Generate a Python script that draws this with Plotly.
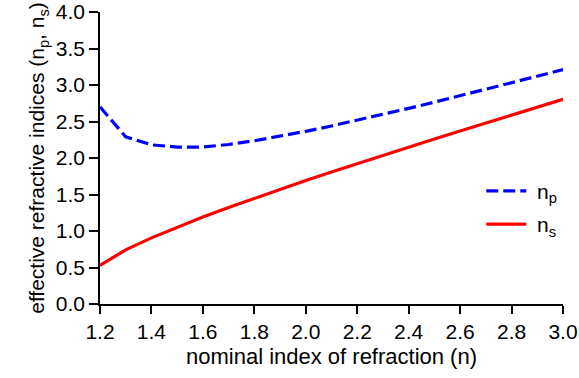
import plotly.graph_objects as go

n_nominal = [1.2, 1.3, 1.4, 1.5, 1.6, 1.7, 1.8, 1.9, 2.0, 2.1, 2.2, 2.3, 2.4, 2.5, 2.6, 2.7, 2.8, 2.9, 3.0]
n_p = [2.70, 2.29, 2.18, 2.15, 2.15, 2.185, 2.236, 2.297, 2.365, 2.439, 2.516, 2.597, 2.680, 2.765, 2.852, 2.940, 3.029, 3.119, 3.210]
n_s = [0.53, 0.742, 0.906, 1.054, 1.192, 1.323, 1.449, 1.572, 1.691, 1.808, 1.924, 2.037, 2.149, 2.261, 2.371, 2.480, 2.588, 2.696, 2.804]

x_ticks = [1.2, 1.4, 1.6, 1.8, 2.0, 2.2, 2.4, 2.6, 2.8, 3.0]
y_ticks = [0.0, 0.5, 1.0, 1.5, 2.0, 2.5, 3.0, 3.5, 4.0]

FONT = "Liberation Sans, Arial, sans-serif"
FS = 21

fig = go.Figure()
fig.add_trace(go.Scatter(x=n_nominal, y=n_p, mode="lines", name="\u00a0n<sub>p</sub>",
                         legendgroup="p",
                         line=dict(color="#0000ff", width=3.2, dash="12px,5px")))
fig.add_trace(go.Scatter(x=n_nominal, y=n_s, mode="lines", name="\u00a0n<sub>s</sub>",
                         legendgroup="s",
                         line=dict(color="#ff0000", width=3.2)))

axis_common = dict(showline=True, linecolor="black", linewidth=1.5, ticks="outside",
                   tickwidth=1.5, tickcolor="black", showgrid=False,
                   zeroline=False, mirror=False, automargin=False,
                   tickfont=dict(family=FONT, size=FS, color="black"))

fig.update_xaxes(range=[1.2, 3.0], tickvals=x_ticks, ticklen=8,
                 ticktext=[f"{v:.1f}" for v in x_ticks],
                 title=dict(text="nominal index of refraction (n)",
                            font=dict(family=FONT, size=22, color="black"), standoff=7),
                 **axis_common)
fig.update_yaxes(range=[0, 4.0], tickvals=y_ticks, ticklen=9,
                 ticktext=[f"{v:.1f}" for v in y_ticks],
                 title=dict(text="effective refractive indices (n<sub>p</sub>, n<sub>s</sub>)",
                            font=dict(family=FONT, size=FS, color="black"), standoff=5),
                 **axis_common)

fig.update_layout(
    width=579, height=378,
    margin=dict(l=100, r=16, t=12, b=74, autoexpand=False),
    paper_bgcolor="white", plot_bgcolor="white",
    font=dict(family=FONT, size=FS, color="black"),
    legend=dict(x=0.8235, y=0.33, xanchor="left", yanchor="middle",
                bgcolor="rgba(0,0,0,0)", traceorder="grouped", tracegroupgap=3,
                itemwidth=40,
                font=dict(family=FONT, size=FS, color="black")),
)

fig.write_html("out.html", config={"displayModeBar": False},
               post_script="document.body.style.margin='0';")
